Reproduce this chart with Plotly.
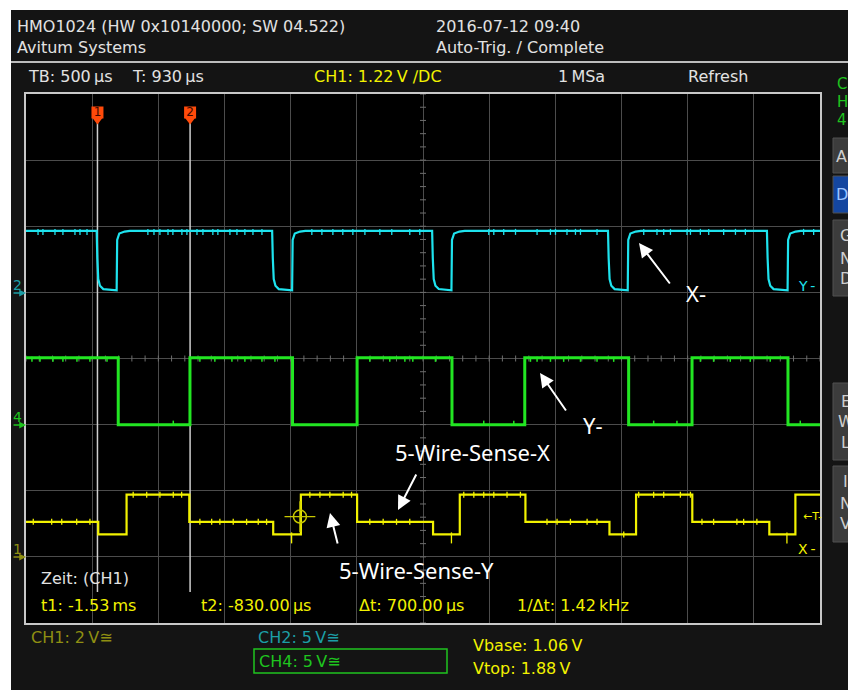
import plotly.graph_objects as go

# ---------------- scope settings ----------------
T_LEFT_MS = -2.07          # left edge of the screen
MS_PER_DIV = 0.5           # TB: 500 us
H_DIVS = 12
V_DIVS = 8
T_RIGHT_MS = T_LEFT_MS + H_DIVS * MS_PER_DIV
T_CENTER_MS = 0.93         # T: 930 us

CH1_V_PER_DIV, CH1_GND_DIV = 2.0, -3.0
CH2_V_PER_DIV, CH2_GND_DIV = 5.0, 1.0
CH4_V_PER_DIV, CH4_GND_DIV = 5.0, -1.0

CURSOR_T1_MS = -1.53
CURSOR_T2_MS = -0.83
TRIG_T_MS = 0.0
TRIG_LEVEL_V = 1.22

# ---------------- CH2 (cyan, X-) ----------------
CH2_HIGH_V = 4.65
CH2_FALL_MS = [-1.536, -0.210, 0.999, 2.328, 3.529]
CH2_RISE_MS = [-1.385, -0.059, 1.145, 2.477, 3.685]
CH2_FALL_EDGE_DT_MS = [0.0, 0.005, 0.012, 0.025, 0.05]
CH2_FALL_EDGE_V = [4.65, 2.6, 1.0, 0.5, 0.25]
CH2_RISE_EDGE_DT_MS = [0.0, 0.004, 0.02, 0.06, 0.1]
CH2_RISE_EDGE_V = [0.15, 3.96, 4.45, 4.6, 4.65]
CH2_GLITCH_MS = [-1.979, -1.942, -1.851, -1.791, -1.700, -1.662, -1.609,
                 -1.149, -1.103, -1.058, -0.997, -0.960, -0.892, -0.854,
                 -0.778, -0.733, -0.658, -0.620, -0.529, -0.476, -0.416,
                 -0.355, -0.287, 0.090, 0.166, 0.249, 0.324, 0.400, 0.491,
                 0.604, 0.694, 0.830, 0.906, 1.427, 1.465, 1.540, 1.629,
                 1.792, 1.893, 1.931, 2.018, 2.082, 2.120, 2.245, 2.598,
                 2.698, 2.749, 2.800, 2.925, 2.951, 3.026, 3.089, 3.202,
                 3.291, 3.366, 3.806, 3.882]

# ---------------- CH4 (green, Y-) ----------------
CH4_HIGH_V = 5.05
CH4_LOW_V = 0.0
CH4_FALL_MS = [-1.373, -0.056, 1.149, 2.484, 3.688]
CH4_RISE_MS = [-0.831, 0.432, 1.699, 2.963]
CH4_HIGH_GLITCH_MS = [-2.025, -1.964, -1.866, -1.791, -1.685, -1.587, -1.458,
                      -0.756, -0.643, -0.514, -0.416, -0.287, -0.189, 0.528,
                      0.679, 0.793, 0.853, 1.024, 1.742, 1.792, 1.893, 1.993,
                      2.120, 2.245, 2.371, 3.026, 3.126, 3.252, 3.403, 3.554]
CH4_LOW_GLITCH_MS = [-0.957, 1.389, 1.616, 2.673, 2.849, 3.781]

# ---------------- CH1 (yellow, 5-wire sense) ----------------
CH1_STEP_MS = [-2.07, -1.524, -1.310, -0.836, -0.202, 0.007, 0.432, 1.006,
               1.208, 1.704, 2.339, 2.540, 2.965, 3.547, 3.744]
CH1_STEP_V = [1.06, 0.68, 1.88, 1.06, 0.68, 1.88, 1.06, 0.68,
              1.88, 1.06, 0.68, 1.88, 1.06, 0.68, 1.88]
CH1_GLITCH_MS = [-2.015, -1.876, -1.800, -1.687, -1.587, -1.260, -1.158,
                 -1.058, -0.957, -0.894, -0.756, -0.667, -0.605, -0.504,
                 -0.403, -0.315, -0.252, 0.075, 0.151, 0.226, 0.327, 0.390,
                 0.528, 0.629, 0.730, 0.830, 1.238, 1.314, 1.389, 1.465,
                 1.565, 1.666, 1.867, 1.943, 2.044, 2.170, 2.245, 2.447,
                 2.560, 2.673, 2.749, 2.875, 2.951, 3.038, 3.126, 3.302,
                 3.353, 3.453]
CH1_DEEP_GLITCH_MS = [-0.063, 1.145, 3.680]

# ---------------- colours ----------------
C_CH1 = "#f2f200"
C_CH2 = "#1ee3ee"
C_CH4 = "#22e622"
C_CH1_DIM = "#8f8f12"
C_CH2_DIM = "#1c9ea6"
C_CH4_DIM = "#1fc41f"
C_TEXT = "#e2e2e2"
C_BG = "#141414"

# ---------------- screen geometry (pixels) ----------------
FIG_W, FIG_H = 848, 690
PL, PR, PT, PB = 26, 820, 94, 623
PX_PER_DIV_Y = (PB - PT) / V_DIVS
PX_PER_MS = (PR - PL) / (T_RIGHT_MS - T_LEFT_MS)


def pxp(X):  # pixel x -> paper
    return (X - PL) / (PR - PL)


def pyp(Y):  # pixel y -> paper
    return (PB - Y) / (PB - PT)


def ydiv(Y):  # pixel y -> division units
    return ((PT + PB) / 2 - Y) / PX_PER_DIV_Y


def to_div(v, vdiv, gnd):
    return gnd + v / vdiv


def step_level(t, times, vals):
    lvl = vals[0]
    for tt, vv in zip(times, vals):
        if tt <= t:
            lvl = vv
    return lvl


# ---------------- build traces ----------------
# CH2
x2, y2 = [T_LEFT_MS], [CH2_HIGH_V]
for tf, tr in zip(CH2_FALL_MS, CH2_RISE_MS):
    for dt, v in zip(CH2_FALL_EDGE_DT_MS, CH2_FALL_EDGE_V):
        x2.append(tf + dt); y2.append(v)
    for dt, v in zip(CH2_RISE_EDGE_DT_MS, CH2_RISE_EDGE_V):
        x2.append(tr + dt); y2.append(v)
x2.append(T_RIGHT_MS); y2.append(CH2_HIGH_V)
y2d = [to_div(v, CH2_V_PER_DIV, CH2_GND_DIV) for v in y2]

# CH4
events = sorted([(t, CH4_LOW_V) for t in CH4_FALL_MS] + [(t, CH4_HIGH_V) for t in CH4_RISE_MS])
x4, y4 = [T_LEFT_MS], [CH4_HIGH_V]
lvl = CH4_HIGH_V
for t, new in events:
    x4 += [t, t]; y4 += [lvl, new]; lvl = new
x4.append(T_RIGHT_MS); y4.append(lvl)
y4d = [to_div(v, CH4_V_PER_DIV, CH4_GND_DIV) for v in y4]

# CH1
x1, y1 = [], []
for i, (t, v) in enumerate(zip(CH1_STEP_MS, CH1_STEP_V)):
    if i:
        x1.append(t); y1.append(CH1_STEP_V[i - 1])
    x1.append(t); y1.append(v)
x1.append(T_RIGHT_MS); y1.append(CH1_STEP_V[-1])
y1d = [to_div(v, CH1_V_PER_DIV, CH1_GND_DIV) for v in y1]


def glitches(times, base_fn, up_px, down_px):
    xs, ys = [], []
    for t in times:
        b = base_fn(t)
        xs += [t, t, None]
        ys += [b + up_px / PX_PER_DIV_Y, b - down_px / PX_PER_DIV_Y, None]
    return xs, ys


g2x, g2y = glitches(CH2_GLITCH_MS, lambda t: to_div(CH2_HIGH_V, CH2_V_PER_DIV, CH2_GND_DIV), 2, 4)
g4hx, g4hy = glitches(CH4_HIGH_GLITCH_MS, lambda t: to_div(CH4_HIGH_V, CH4_V_PER_DIV, CH4_GND_DIV), 1, 4)
g4lx, g4ly = glitches(CH4_LOW_GLITCH_MS, lambda t: to_div(CH4_LOW_V, CH4_V_PER_DIV, CH4_GND_DIV), 4, 1)
ch1_base = lambda t: to_div(step_level(t, CH1_STEP_MS, CH1_STEP_V), CH1_V_PER_DIV, CH1_GND_DIV)
g1x, g1y = glitches(CH1_GLITCH_MS, ch1_base, 3, 3)
g1dx, g1dy = glitches(CH1_DEEP_GLITCH_MS, ch1_base, 2, 9)

fig = go.Figure()

# centre-axis subdivision ticks
tx, ty = [], []
for k in range(H_DIVS * 5 + 1):
    t = T_LEFT_MS + k * MS_PER_DIV / 5
    tx += [t, t, None]; ty += [3 / PX_PER_DIV_Y, -3 / PX_PER_DIV_Y, None]
dt3 = 3 / PX_PER_MS
for k in range(V_DIVS * 5 + 1):
    v = -V_DIVS / 2 + k / 5
    tx += [T_CENTER_MS - dt3, T_CENTER_MS + dt3, None]; ty += [v, v, None]
fig.add_trace(go.Scatter(x=tx, y=ty, mode="lines", line=dict(color="#6e6e6e", width=1),
                         hoverinfo="skip"))

# cursor lines
for tc in (CURSOR_T1_MS, CURSOR_T2_MS):
    fig.add_trace(go.Scatter(x=[tc, tc], y=[ydiv(122), ydiv(592)], mode="lines",
                             line=dict(color="#cfcfcf", width=1.5), hoverinfo="skip"))

# waveforms
fig.add_trace(go.Scatter(x=x2, y=y2d, mode="lines", line=dict(color=C_CH2, width=2.2)))
fig.add_trace(go.Scatter(x=g2x, y=g2y, mode="lines", line=dict(color=C_CH2, width=1.3)))
fig.add_trace(go.Scatter(x=x4, y=y4d, mode="lines", line=dict(color=C_CH4, width=3)))
fig.add_trace(go.Scatter(x=g4hx + g4lx, y=g4hy + g4ly, mode="lines", line=dict(color=C_CH4, width=1.5)))
fig.add_trace(go.Scatter(x=x1, y=y1d, mode="lines", line=dict(color=C_CH1, width=2.2)))
fig.add_trace(go.Scatter(x=g1x + g1dx, y=g1y + g1dy, mode="lines", line=dict(color=C_CH1, width=1.3)))

# trigger crosshair
trig_div = to_div(TRIG_LEVEL_V, CH1_V_PER_DIV, CH1_GND_DIV)
fig.add_trace(go.Scatter(x=[TRIG_T_MS], y=[trig_div], mode="markers",
                         marker=dict(symbol="circle-open", size=13, color="#c8c800", line=dict(width=1.5))))
fig.add_trace(go.Scatter(x=[TRIG_T_MS], y=[trig_div], mode="markers",
                         marker=dict(symbol="cross-thin-open", size=22, color="#c8c800", line=dict(width=1.2))))

# cursor flags
fig.add_trace(go.Scatter(x=[CURSOR_T1_MS, CURSOR_T2_MS], y=[ydiv(119.5), ydiv(119.5)], mode="markers",
                         marker=dict(symbol="triangle-down", size=10, color="#ff4a0a")))
fig.add_trace(go.Scatter(x=[CURSOR_T1_MS, CURSOR_T2_MS], y=[ydiv(112.5), ydiv(112.5)], mode="markers+text",
                         marker=dict(symbol="square", size=12, color="#ff4a0a"),
                         text=["1", "2"], textposition="middle center",
                         textfont=dict(family="DejaVu Sans", size=12, color="#3a0800")))

# trigger position markers above the grid
fig.add_trace(go.Scatter(x=[TRIG_T_MS], y=[ydiv(90)], mode="markers", cliponaxis=False,
                         marker=dict(symbol="triangle-down", size=7, color="#d8d800")))
fig.add_trace(go.Scatter(x=[T_CENTER_MS], y=[ydiv(90.5)], mode="markers", cliponaxis=False,
                         marker=dict(symbol="triangle-down-open", size=8, color="#a8a8a8", line=dict(width=1))))

shapes = []
# white strips round the screenshot
shapes.append(dict(type="rect", xref="paper", yref="paper", x0=pxp(-5), x1=pxp(FIG_W + 5),
                   y0=pyp(10), y1=pyp(-5), fillcolor="white", line=dict(width=0), layer="below"))
shapes.append(dict(type="rect", xref="paper", yref="paper", x0=pxp(-5), x1=pxp(11),
                   y0=pyp(FIG_H + 5), y1=pyp(-5), fillcolor="white", line=dict(width=0), layer="below"))
# header separator
shapes.append(dict(type="line", xref="paper", yref="paper", x0=pxp(11), x1=pxp(FIG_W),
                   y0=pyp(62), y1=pyp(62), line=dict(color="#bdbdbd", width=2)))
# CH4 box
shapes.append(dict(type="rect", xref="paper", yref="paper", x0=pxp(254), x1=pxp(447),
                   y0=pyp(673), y1=pyp(649), line=dict(color=C_CH4_DIM, width=1.5)))
# side buttons
for (y0, y1, col) in [(138, 173, "#3c3c3c"), (176, 213, "#1446a0"), (220, 296, "#3c3c3c"),
                      (383, 460, "#3c3c3c"), (466, 542, "#3c3c3c")]:
    shapes.append(dict(type="rect", xref="paper", yref="paper", x0=pxp(833), x1=pxp(870),
                       y0=pyp(y1), y1=pyp(y0), fillcolor=col, line=dict(color="#505050", width=1)))

ann = []


def txt(X, Y, s, color=C_TEXT, size=16, family="DejaVu Sans", xanchor="left"):
    ann.append(dict(x=pxp(X), y=pyp(Y), xref="paper", yref="paper", text=s, showarrow=False,
                    xanchor=xanchor, yanchor="middle", font=dict(family=family, size=size, color=color),
                    borderpad=0))


def arrow(Xh, Yh, Xt, Yt, color="white", width=2, size=1.4, head=2):
    ann.append(dict(x=pxp(Xh), y=pyp(Yh), xref="paper", yref="paper", text="", showarrow=True,
                    ax=Xt - Xh, ay=Yt - Yh, arrowcolor=color, arrowwidth=width, arrowsize=size,
                    arrowhead=head, standoff=0, startstandoff=0))


# header
txt(16, 26, "HMO1024 (HW 0x10140000; SW 04.522)")
txt(16, 47, "Avitum Systems")
txt(435, 26, "2016-07-12 09:40")
txt(435, 47, "Auto-Trig. / Complete")
txt(27, 77, "TB: 500\u2009µs")
txt(131, 77, "T: 930\u2009µs")
txt(313, 77, "CH1: 1.22\u2009V \u2215DC", color=C_CH1)
txt(557, 77, "1\u2009MSa")
txt(687, 77, "Refresh")
# cursor readout
txt(40, 578, "Zeit: (CH1)")
txt(40, 605, "t1: -1.53\u2009ms", color=C_CH1)
txt(200, 605, "t2: -830.00\u2009µs", color=C_CH1)
txt(358, 605, "Δt: 700.00\u2009µs", color=C_CH1)
txt(516, 605, "1/Δt: 1.42\u2009kHz", color=C_CH1)
# channel settings
txt(30, 637, "CH1: 2\u2009V\u2245", color=C_CH1_DIM)
txt(257, 637, "CH2: 5\u2009V\u2245", color=C_CH2_DIM)
txt(258, 661, "CH4: 5\u2009V\u2245", color=C_CH4_DIM)
txt(472, 645, "Vbase: 1.06\u2009V", color=C_CH1)
txt(472, 668, "Vtop: 1.88\u2009V", color=C_CH1)
# ground markers
for (Yg, lab, col) in [(293, "2", C_CH2_DIM), (425, "4", C_CH4_DIM), (557, "1", C_CH1_DIM)]:
    txt(12, Yg - 8, lab, color=col, size=14)
    arrow(26, Yg, 12, Yg, color=col, width=1.5, size=0.9)
# right-edge labels
txt(797, 286, "Y\u2009-", color=C_CH2, size=14)
txt(797, 549, "X\u2009-", color=C_CH1, size=14)
txt(802, 516, "\u2190T-", color=C_CH1, size=11)
# side panel text
for (Y, s) in [(84, "C"), (102, "H"), (120, "4")]:
    txt(836, Y, s, color=C_CH4_DIM, size=15)
txt(835, 156, "Au", color="#cfcfcf", size=16)
txt(835, 194, "Du", color="#9cc4ff", size=16)
for (Y, s) in [(235, "G"), (258, "N"), (278, "D"), (401, "E"), (422, "W"), (442, "L"),
               (481, "I"), (503, "N"), (523, "V")]:
    txt(846, Y, s, color="#cfcfcf", size=16, xanchor="center")
# white annotations
NOTE_FONT = "Noto Sans"
txt(685, 293, "X-", color="white", size=22, family=NOTE_FONT)
txt(582, 425, "Y-", color="white", size=22, family=NOTE_FONT)
txt(394, 452, "5-Wire-Sense-X", color="white", size=22, family=NOTE_FONT)
txt(338, 570, "5-Wire-Sense-Y", color="white", size=22, family=NOTE_FONT)
arrow(639, 243, 671, 285)
arrow(540, 373, 567, 412)
arrow(398, 510, 417, 473)
arrow(330, 513, 338, 545)

fig.update_layout(
    width=FIG_W, height=FIG_H,
    margin=dict(l=PL, r=FIG_W - PR, t=PT, b=FIG_H - PB, pad=0),
    paper_bgcolor=C_BG, plot_bgcolor="#000000", showlegend=False,
    xaxis=dict(range=[T_LEFT_MS, T_RIGHT_MS], tick0=T_LEFT_MS, dtick=MS_PER_DIV,
               showgrid=True, gridcolor="#4c4c4c", gridwidth=1, zeroline=False,
               showticklabels=False, ticks="", showline=True, mirror=True,
               linecolor="#c8c8c8", linewidth=1.5, fixedrange=True),
    yaxis=dict(range=[-V_DIVS / 2, V_DIVS / 2], tick0=0, dtick=1,
               showgrid=True, gridcolor="#4c4c4c", gridwidth=1, zeroline=False,
               showticklabels=False, ticks="", showline=True, mirror=True,
               linecolor="#c8c8c8", linewidth=1.5, fixedrange=True),
    shapes=shapes, annotations=ann,
)

fig.write_html("out.html", config={"displayModeBar": False},
               post_script="document.body.style.margin='0';document.body.style.overflow='hidden';")
